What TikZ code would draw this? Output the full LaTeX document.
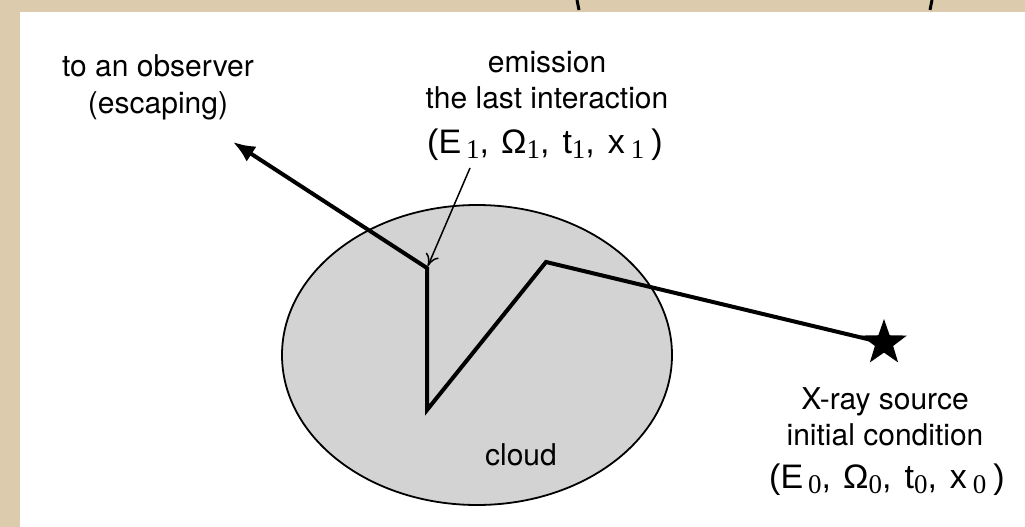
\documentclass[tikz,border=0pt]{standalone}
\usepackage{fontspec}
\setmainfont{TeX Gyre Heros}
\newfontfamily\tuplefont{Liberation Sans}
\newfontfamily\subfont{Liberation Serif}
\usetikzlibrary{arrows.meta,shapes.geometric}
\definecolor{paper}{RGB}{221,203,173}
\definecolor{cloudgray}{RGB}{211,211,211}
\newcommand\ix[1]{\raisebox{-5pt}{\fontsize{27}{27}\subfont #1}}
\newcommand\tup[1]{(E\hspace{5pt}\ix{#1},\hspace{12pt}Ω\ix{#1},\hspace{13pt}t\ix{#1},\hspace{13pt}x\hspace{6pt}\ix{#1}\hspace{7pt})}

\begin{document}
\begin{tikzpicture}[x=1pt,y=-1pt,
  lbl/.style={font=\fontsize{30}{36}\selectfont,align=center,anchor=base,inner sep=0},
  tuple/.style={font=\fontsize{34}{36}\tuplefont,anchor=base,inner sep=0},
  ray/.style={line width=4pt},
  pointer/.style={line width=1.5pt,-{To[length=12pt,width=14pt]}}]
\useasboundingbox (0,0) rectangle (1025,527);
\fill[paper] (0,0) rectangle (1025,527);
\fill[white] (20,12) rectangle (1025,527);
\draw[line width=3pt] (577,0) -- (579,10);
\draw[line width=3pt] (932,0) -- (930,10);
\draw[fill=cloudgray,line width=1.8pt] (477,355) ellipse [x radius=195,y radius=150];
\node[lbl] (cloud) at (521,465) {cloud};
\node[star,star points=5,star point ratio=2.5,fill=black,minimum size=48pt,inner sep=0] (src) at (884,343) {};
\coordinate (in) at (546,262);
\coordinate (turn) at (427,410);
\coordinate (last) at (427,268);
\coordinate (esc) at (233,142);
\draw[ray,-{Latex[length=22pt,width=18pt]}] (src.center) -- (in) -- (turn) -- (last) -- (esc);
\node[lbl] (obs) at (158,113) {to an observer\\(escaping)};
\node[lbl] (emis) at (547,108) {emission\\the last interaction};
\node[tuple] (tone) at (545,153) {\tup{1}};
\coordinate (tail) at (470,168);
\draw[pointer,shorten >=2pt] (tail) -- (last);
\node[lbl] (srclbl) at (885,445) {X-ray source\\initial condition};
\node[tuple] (tzero) at (887,488) {\tup{0}};
\end{tikzpicture}
\end{document}
